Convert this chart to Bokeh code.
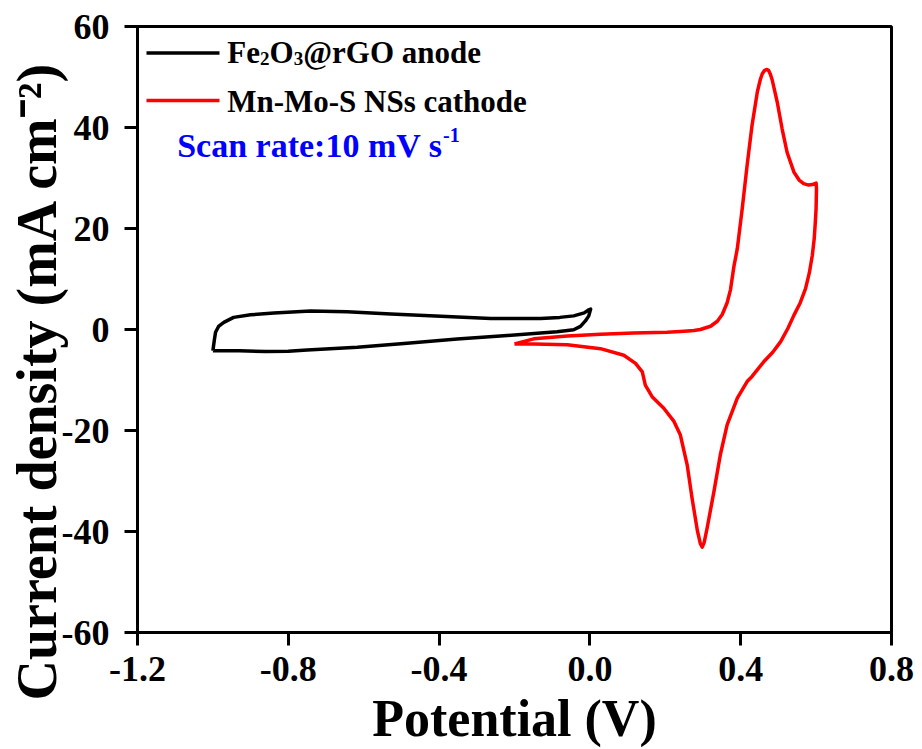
import math
from bokeh.plotting import figure
from bokeh.models import Range1d, Label, FixedTicker, NumeralTickFormatter, Title
from bokeh.embed import file_html
from bokeh.resources import INLINE

# ---------------- data ----------------
x_ticks = [-1.2, -0.8, -0.4, 0.0, 0.4, 0.8]
y_ticks = [-60, -40, -20, 0, 20, 40, 60]

# Fe2O3@rGO anode CV loop (V, mA cm-2)
anode_v = [-1.000, -0.996, -0.993, -0.985, -0.971, -0.945, -0.900, -0.838, -0.741,
           -0.644, -0.528, -0.395, -0.263, -0.131, -0.080, -0.043, -0.015, -0.003,
           0.002, -0.003, -0.012, -0.025, -0.043, -0.087, -0.219, -0.352, -0.485,
           -0.617, -0.750, -0.800, -0.860, -0.930, -1.000]
anode_j = [-4.2, -2.0, -0.55, 0.6, 1.4, 2.4, 2.9, 3.26, 3.66,
           3.5, 3.06, 2.6, 2.2, 2.2, 2.4, 2.7, 3.3, 3.9,
           4.05, 2.7, 1.7, 0.63, -0.04, -0.43, -1.2, -1.9, -2.7,
           -3.5, -4.05, -4.3, -4.35, -4.2, -4.2]

# Mn-Mo-S NSs cathode CV loop (V, mA cm-2)
cathode_v = [-0.200, -0.149, -0.060, 0.028, 0.116, 0.205, 0.250, 0.276, 0.293,
             0.320, 0.338, 0.351, 0.364, 0.373, 0.382, 0.391, 0.404, 0.417,
             0.430, 0.444, 0.452, 0.457, 0.463, 0.468, 0.474, 0.479, 0.484,
             0.490, 0.497, 0.510, 0.523, 0.541, 0.555, 0.567, 0.580, 0.590,
             0.600, 0.601, 0.600, 0.598, 0.595, 0.590, 0.582, 0.572, 0.558,
             0.541, 0.525, 0.506, 0.485, 0.461, 0.430, 0.417, 0.391, 0.364,
             0.346, 0.329, 0.311, 0.303, 0.298, 0.293, 0.285, 0.271, 0.258,
             0.240, 0.223, 0.196, 0.165, 0.147, 0.139, 0.121, 0.090, 0.028,
             -0.060, -0.149, -0.200]
cathode_j = [-2.85, -1.85, -1.3, -0.95, -0.7, -0.55, -0.35, -0.2, 0.0,
             0.65, 1.64, 2.97, 5.3, 7.9, 12.5, 16.0, 23.9, 32.5,
             40.4, 47.0, 49.5, 50.6, 51.3, 51.5, 51.3, 50.5, 49.3,
             47.3, 45.0, 39.7, 35.1, 31.2, 29.6, 28.9, 28.6, 28.7,
             29.0, 27.9, 24.0, 21.3, 18.0, 14.7, 11.2, 8.1, 5.3,
             2.8, 0.2, -2.4, -4.5, -6.4, -9.3, -10.3, -13.6, -18.9,
             -24.8, -32.1, -39.3, -42.2, -43.1, -42.4, -39.8, -33.4, -26.8,
             -20.9, -18.2, -15.6, -13.3, -11.0, -8.4, -6.7, -5.1, -3.8,
             -3.0, -2.85, -2.85]

series_names = ["Fe", "2", "O", "3", "@rGO anode"]
cathode_name = "Mn-Mo-S NSs cathode"
scan_text = "Scan rate:10 mV s"
scan_sup = "-1"
ylabel = "Current density (mA cm\u207b\u00b2)"
xlabel = "Potential (V)"

# ---------------- layout ----------------
W, H = 922, 749
FL, FR, FT, FB = 137, 891, 26, 633
XMIN, XMAX, YMIN, YMAX = -1.2, 0.8, -60, 60
FONT = "Liberation Serif"
TXT_SHIFT = -11  # Label baseline correction (px)


def dx(px):
    return XMIN + (px - FL) / (FR - FL) * (XMAX - XMIN)


def dy(py):
    return YMAX - (py - FT) / (FB - FT) * (YMAX - YMIN)


p = figure(width=W, height=H, output_backend="svg", toolbar_location=None,
           x_range=Range1d(XMIN, XMAX), y_range=Range1d(YMIN, YMAX),
           min_border_left=FL, min_border_right=W - FR,
           min_border_top=FT, min_border_bottom=H - FB)
p.background_fill_color = "white"
p.border_fill_color = "white"
p.xgrid.visible = False
p.ygrid.visible = False
p.outline_line_color = "black"
p.outline_line_width = 3
p.outline_line_alpha = 1.0

p.xaxis.ticker = FixedTicker(ticks=x_ticks)
p.yaxis.ticker = FixedTicker(ticks=y_ticks)
p.xaxis.formatter = NumeralTickFormatter(format="0.0")
p.yaxis.formatter = NumeralTickFormatter(format="0")

for ax in (p.xaxis[0], p.yaxis[0]):
    ax.axis_line_width = 3
    ax.axis_line_color = "black"
    ax.major_tick_line_width = 3
    ax.major_tick_line_color = "black"
    ax.major_tick_out = 13
    ax.major_tick_in = 0
    ax.minor_tick_out = 0
    ax.minor_tick_in = 0
    ax.major_label_text_font = FONT
    ax.major_label_text_font_style = "bold"
    ax.major_label_text_font_size = "36px"
    ax.major_label_text_color = "black"
    ax.axis_label_text_font = FONT
    ax.axis_label_text_font_style = "bold"
    ax.axis_label_text_color = "black"

p.xaxis.major_label_standoff = 11
p.yaxis.major_label_standoff = 15
p.xaxis.axis_label = xlabel
p.xaxis.axis_label_text_font_size = "52px"
p.xaxis.axis_label_standoff = 6

# y-axis title, placed in the left panel and shifted down as in the source
p.add_layout(Title(text=ylabel, align="left", vertical_align="bottom",
                   offset=-68, standoff=-18, text_font=FONT,
                   text_font_style="bold", text_font_size="56px",
                   text_color="black"), "left")

# ---------------- curves ----------------
p.line(anode_v, anode_j, line_color="black", line_width=3.5, line_join="round")
p.line(cathode_v, cathode_j, line_color="red", line_width=3.5, line_join="round")

# ---------------- legend ----------------
p.segment(x0=[dx(146)], y0=[dy(52.5)], x1=[dx(219)], y1=[dy(52.5)],
          line_color="black", line_width=3.5)
p.segment(x0=[dx(146)], y0=[dy(100)], x1=[dx(219)], y1=[dy(100)],
          line_color="red", line_width=3.5)


def lab(txt, px, py, size, color="black"):
    p.add_layout(Label(x=dx(px), y=dy(py + TXT_SHIFT), x_units="data", y_units="data",
                       text=txt, text_font=FONT,
                       text_font_style="bold", text_font_size=f"{size}px",
                       text_color=color, text_align="left",
                       text_baseline="alphabetic"))


lab(series_names[0], 226.7, 63.3, 31)
lab(series_names[1], 259.5, 69.5, 19)
lab(series_names[2], 269.0, 63.3, 31)
lab(series_names[3], 293.2, 69.5, 19)
lab(series_names[4], 302.7, 63.3, 31)
lab(cathode_name, 226.7, 111.7, 31)
lab(scan_text, 176.7, 156, 34, color="#0000FF")
lab(scan_sup, 442.5, 146, 20, color="#0000FF")

open("out.html", "w").write(file_html(p, INLINE))
